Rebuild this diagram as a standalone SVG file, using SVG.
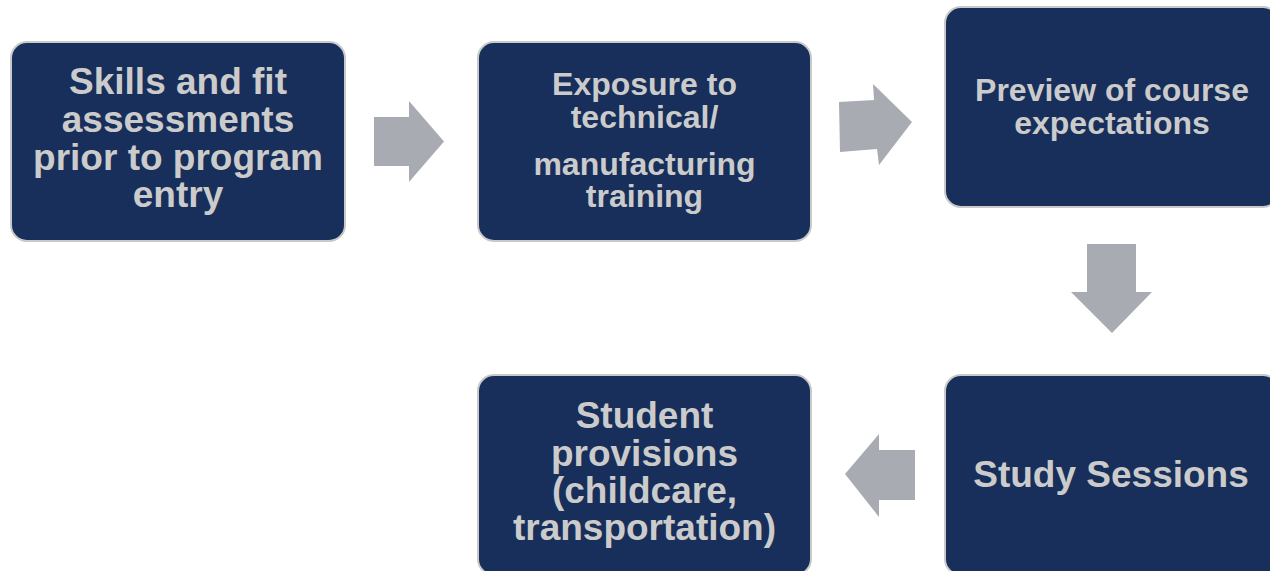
<svg xmlns="http://www.w3.org/2000/svg" width="1270" height="571" viewBox="0 0 1270 571">
<style>
.box{fill:#172f5a;stroke:#c9c9c9;stroke-width:2}
.t{font-family:"Liberation Sans",Arial,sans-serif;font-weight:bold;fill:#cbcbcb;text-anchor:middle}
.big{font-size:37px}
.sm{font-size:32px}
.arr{fill:#a8abb2}
</style>
<rect width="1270" height="571" fill="#ffffff"/>
<g id="node1">
<rect class="box" x="11" y="42" width="334" height="199" rx="16"/>
<text class="t big" x="178" y="94">Skills and fit</text>
<text class="t big" x="178" y="132">assessments</text>
<text class="t big" x="178" y="170">prior to program</text>
<text class="t big" x="178" y="207">entry</text>
</g>
<g id="node2">
<rect class="box" x="478" y="42" width="333" height="199" rx="16"/>
<text class="t sm" x="644.5" y="95">Exposure to</text>
<text class="t sm" x="644.5" y="128">technical/</text>
<text class="t sm" x="644.5" y="175">manufacturing</text>
<text class="t sm" x="644.5" y="207">training</text>
</g>
<g id="node3">
<rect class="box" x="945" y="7" width="334" height="200" rx="16"/>
<text class="t sm" x="1112" y="101">Preview of course</text>
<text class="t sm" x="1112" y="134">expectations</text>
</g>
<g id="node4">
<rect class="box" x="945" y="375" width="334" height="200" rx="16"/>
<text class="t big" x="1111" y="487">Study Sessions</text>
</g>
<g id="node5">
<rect class="box" x="478" y="375" width="333" height="200" rx="16"/>
<text class="t big" x="644.5" y="428">Student</text>
<text class="t big" x="644.5" y="466">provisions</text>
<text class="t big" x="644.5" y="503">(childcare,</text>
<text class="t big" x="644.5" y="540">transportation)</text>
</g>
<g id="connectors">
<polygon class="arr" points="374,117 409,117 409,101 444,141.5 409,182 409,166 374,166"/>
<polygon class="arr" points="839,102 874,100 873,84 912,122 879,165 877,149 840,152"/>
<polygon class="arr" points="1087,244 1136,244 1136,292 1152,292 1112,333 1071,292 1087,292"/>
<polygon class="arr" points="915,450 879,450 879,434 845,474 879,517 879,500 915,500"/>
</g>
</svg>
